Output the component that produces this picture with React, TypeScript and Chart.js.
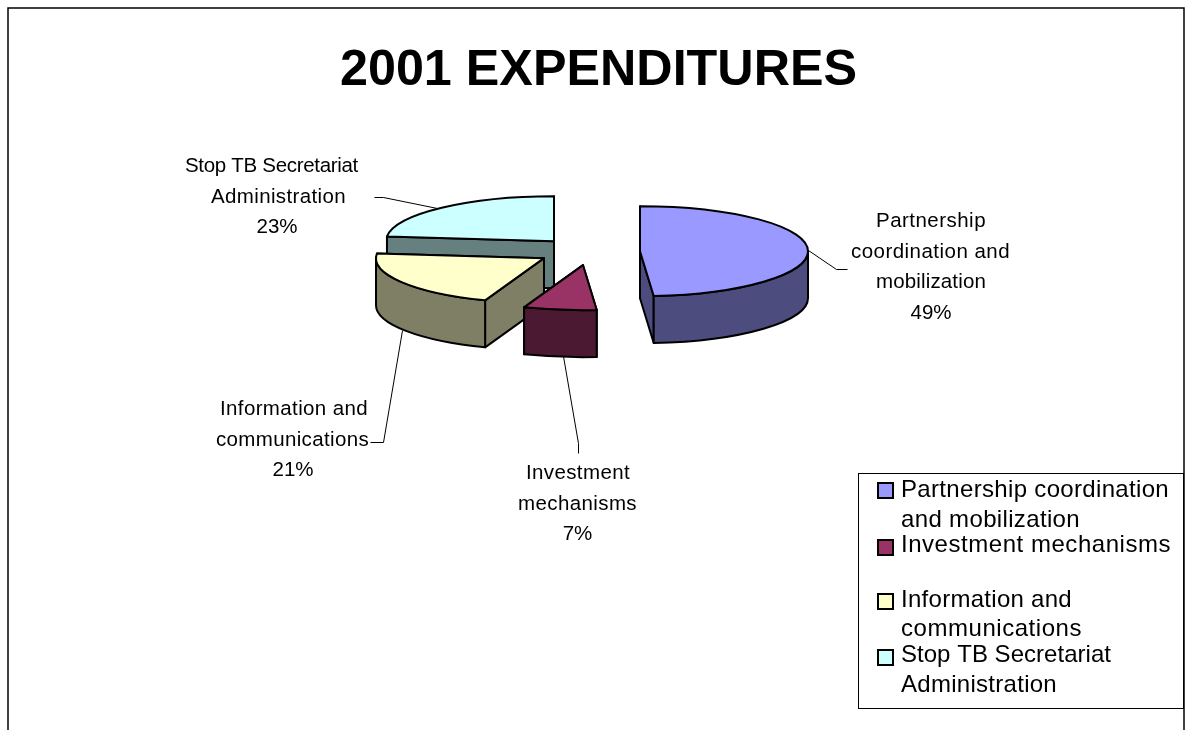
import React, { useEffect, useRef } from "react";
import { Chart, registerables } from "chart.js";

Chart.register(...registerables);

const TITLE = "2001 EXPENDITURES";
const categories = [
  "Partnership coordination and mobilization",
  "Investment mechanisms",
  "Information and communications",
  "Stop TB Secretariat Administration",
];
const shares = [48.7, 7.0, 21.0, 23.3];
const topColors = ["#9999FF", "#993366", "#FFFFCC", "#CCFFFF"];
const sideColors = ["#4C4C7F", "#4C1933", "#7F7F66", "#667F7F"];

// Slice displacement from the pie centre, in px.
const explodeX = [41.5, -15.5, -54.5, -44.5];
const explodeY = [1, 15, 8, -9];
const drawOrder = [3, 2, 1, 0];
const FLATTEN = 45 / 168;
const DEPTH = 47;

const sliceLabelLines = [
  ["Partnership", "coordination and", "mobilization"],
  ["Investment", "mechanisms"],
  ["Information and", "communications"],
  ["Stop TB Secretariat", "Administration"],
];
const sliceLabelCenters = [
  [931, 930.5, 931, 931],
  [578, 577.5, 577.5],
  [294, 292.5, 293],
  [271.5, 278.5, 277],
];
const sliceLabelWidths = [
  [110, 159, 110],
  [104, 119],
  [148, 153],
  [173, 135],
];
const sliceLabelY = [227, 479, 415, 172];
const leaderLines = [
  [[808, 250], [836, 269], [847, 269]],
  [[563, 356], [578, 443], [578, 453]],
  [[402, 330], [383, 442], [370, 442]],
  [[437, 208], [383, 197], [374, 197]],
];
const legendLines = [
  ["Partnership coordination", "and mobilization"],
  ["Investment mechanisms"],
  ["Information and", "communications"],
  ["Stop TB Secretariat", "Administration"],
];
const legendWidths = [[268, 179], [270], [171, 181], [210, 156]];
const legendSwatchY = [483, 540, 594, 650];
const legendTextY = [[497, 527], [552], [607, 636], [662, 692]];

const FONT = '"Liberation Sans", Arial, sans-serif';

function fitText(ctx: any, text: string, x: number, y: number, width: number) {
  ctx.letterSpacing = "0px";
  const spacing = (width - ctx.measureText(text).width) / text.length;
  ctx.letterSpacing = `${spacing}px`;
  ctx.fillText(text, x, y);
  ctx.letterSpacing = "0px";
}

const pie3d = {
  id: "pie3d",
  beforeDatasetDraw(chart: any, args: any) {
    const ctx = chart.ctx as CanvasRenderingContext2D;
    const arcs = chart.getDatasetMeta(args.index).data;
    drawOrder.forEach((i) => {
      const p = arcs[i].getProps(["x", "y", "startAngle", "endAngle", "outerRadius"], true);
      const cx = p.x + explodeX[i];
      const cy = p.y + explodeY[i];
      const rx = p.outerRadius;
      const ry = rx * FLATTEN;
      const a0 = p.startAngle;
      const a1 = p.endAngle;
      ctx.save();
      ctx.lineWidth = 2;
      ctx.strokeStyle = "#000";
      ctx.lineJoin = "round";

      const edges = [a0, a1].sort((u, v) => Math.sin(u) - Math.sin(v));
      ctx.fillStyle = sideColors[i];
      edges.forEach((a) => {
        const ex = cx + rx * Math.cos(a);
        const ey = cy + ry * Math.sin(a);
        ctx.beginPath();
        ctx.moveTo(cx, cy);
        ctx.lineTo(ex, ey);
        ctx.lineTo(ex, ey + DEPTH);
        ctx.lineTo(cx, cy + DEPTH);
        ctx.closePath();
        ctx.fill();
        ctx.stroke();
      });

      const f0 = Math.max(a0, 0);
      const f1 = Math.min(a1, Math.PI);
      if (f1 > f0) {
        ctx.beginPath();
        ctx.ellipse(cx, cy, rx, ry, 0, f0, f1);
        ctx.ellipse(cx, cy + DEPTH, rx, ry, 0, f1, f0, true);
        ctx.closePath();
        ctx.fill();
        ctx.stroke();
      }

      ctx.fillStyle = topColors[i];
      ctx.beginPath();
      ctx.moveTo(cx, cy);
      ctx.ellipse(cx, cy, rx, ry, 0, a0, a1);
      ctx.closePath();
      ctx.fill();
      ctx.stroke();
      ctx.restore();
    });
    return false;
  },
  afterDraw(chart: any) {
    const ctx = chart.ctx as CanvasRenderingContext2D;
    ctx.save();

    // Frame: open at the bottom
    ctx.strokeStyle = "#000";
    ctx.lineWidth = 1.5;
    ctx.beginPath();
    ctx.moveTo(8, 730);
    ctx.lineTo(8, 8);
    ctx.lineTo(1184, 8);
    ctx.lineTo(1184, 730);
    ctx.stroke();

    // Leader lines
    ctx.lineWidth = 1;
    leaderLines.forEach((pts) => {
      ctx.beginPath();
      pts.forEach(([x, y], k) => (k ? ctx.lineTo(x + 0.5, y + 0.5) : ctx.moveTo(x + 0.5, y + 0.5)));
      ctx.stroke();
    });

    // Slice labels
    ctx.fillStyle = "#000";
    ctx.textAlign = "center";
    ctx.textBaseline = "alphabetic";
    ctx.font = `20.5px ${FONT}`;
    sliceLabelLines.forEach((lines, i) => {
      lines.forEach((t, k) =>
        fitText(ctx, t, sliceLabelCenters[i][k], sliceLabelY[i] + k * 30.5, sliceLabelWidths[i][k])
      );
      ctx.fillText(`${Math.round(shares[i])}%`, sliceLabelCenters[i][lines.length], sliceLabelY[i] + lines.length * 30.5);
    });

    // Legend
    ctx.lineWidth = 1;
    ctx.strokeStyle = "#000";
    ctx.strokeRect(858.5, 473.5, 325, 235);
    ctx.textAlign = "left";
    ctx.font = `24px ${FONT}`;
    legendLines.forEach((lines, i) => {
      ctx.fillStyle = topColors[i];
      ctx.fillRect(878, legendSwatchY[i], 15, 15);
      ctx.lineWidth = 2;
      ctx.strokeRect(878, legendSwatchY[i], 15, 15);
      ctx.fillStyle = "#000";
      lines.forEach((t, k) => fitText(ctx, t, 901, legendTextY[i][k], legendWidths[i][k]));
    });
    ctx.restore();
  },
};

export default function App() {
  const ref = useRef<HTMLCanvasElement>(null);
  useEffect(() => {
    const chart = new Chart(ref.current as HTMLCanvasElement, {
      type: "pie",
      data: {
        labels: categories,
        datasets: [{ data: shares, backgroundColor: topColors, borderColor: "#000", borderWidth: 2 }],
      },
      options: {
        responsive: false,
        animation: false,
        radius: 168,
        layout: { padding: { left: 10, right: 0, top: 0, bottom: 342 } },
        plugins: {
          legend: { display: false },
          tooltip: { enabled: false },
          title: {
            display: true,
            text: TITLE,
            color: "#000",
            font: { family: FONT, size: 50.3, weight: "bold" },
            padding: { top: 41, bottom: 11 },
          },
        },
      } as any,
      plugins: [pie3d],
    });
    return () => chart.destroy();
  }, []);
  return (
    <canvas
      ref={ref}
      width={1187}
      height={730}
      style={{ position: "absolute", left: 0, top: 0, width: 1187, height: 730, background: "#fff" }}
    />
  );
}
